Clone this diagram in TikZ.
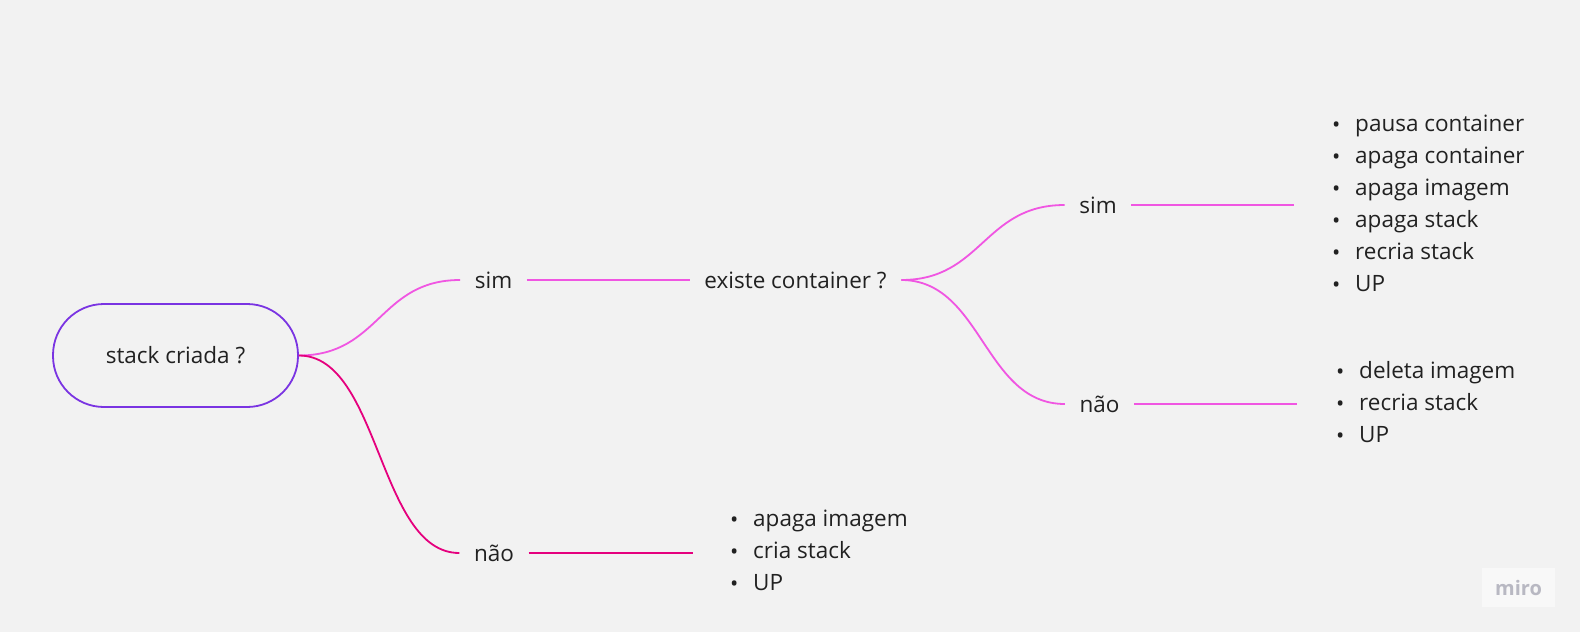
\documentclass[tikz,border=0pt]{standalone}
\usepackage{fontspec}
\setmainfont{Open Sans}
\usepackage{tikz}
\usepackage{xcolor}
\definecolor{bggrey}{RGB}{242,242,242}
\definecolor{rootlila}{RGB}{122,52,226}
\definecolor{softpink}{RGB}{240,86,226}
\definecolor{hardpink}{RGB}{229,0,126}
\definecolor{mirogrey}{RGB}{184,184,194}
\newcommand{\dotitem}{\makebox[23pt][l]{\raisebox{-1pt}{\fontsize{22}{22}\selectfont\textbullet}}}

\begin{document}
\begin{tikzpicture}[x=1pt,y=-1pt]

\tikzstyle{every node}=[font=\fontsize{22.5}{32}\selectfont, text=black!87]
\tikzstyle{word}=[inner xsep=14.5pt, inner ysep=0pt, text height=16pt, text depth=0pt]
\tikzstyle{list}=[align=left, inner sep=0pt, anchor=west]
\tikzstyle{soft}=[draw=softpink, line width=1.8pt]
\tikzstyle{hard}=[draw=hardpink, line width=1.8pt]

% background
    \fill[bggrey] (0,0) rectangle (1580,632);

% root question
    \node[draw=rootlila, line width=1.8pt, rounded corners=51pt, minimum width=245pt,
          minimum height=103pt, inner sep=0pt] (root) at (175.5,355.5) {stack criada ?};

% first answers
    \node[word] (sim1) at (493.5,280) {sim};
    \node[word] (nao1) at (494,553) {não};
    \node[word] (cont) at (795.5,280) {existe container ?};

% second answers
    \node[word] (sim2) at (1098,205) {sim};
    \node[word] (nao2) at (1099.5,404) {não};

% lists
    \node[list] (listA) at (1332,204) {\dotitem pausa container\\ \dotitem apaga container\\
          \dotitem apaga imagem\\ \dotitem apaga stack\\ \dotitem recria stack\\ \dotitem UP};
    \node[list] (listB) at (1336,402) {\dotitem deleta imagem\\ \dotitem recria stack\\ \dotitem UP};
    \node[list] (listC) at (730,551) {\dotitem apaga imagem\\ \dotitem cria stack\\ \dotitem UP};

% free line ends
    \coordinate (endA) at (1294,205);
    \coordinate (endB) at (1297,404);
    \coordinate (endC) at (693,553);

% branches
    \draw[soft] (root.east) .. controls +(81,0) and +(-81,0) .. (sim1.west);
    \draw[hard] (root.east) .. controls +(81,0) and +(-81,0) .. (nao1.west);
    \draw[soft] (sim1.east) -- (cont.west);
    \draw[hard] (nao1.east) -- (endC);
    \draw[soft] (cont.east) .. controls +(81,0) and +(-81,0) .. (sim2.west);
    \draw[soft] (cont.east) .. controls +(81,0) and +(-81,0) .. (nao2.west);
    \draw[soft] (sim2.east) -- (endA);
    \draw[soft] (nao2.east) -- (endB);

% watermark
    \node[fill=white!45!bggrey, minimum width=73pt, minimum height=39pt, inner sep=0pt,
          font=\fontsize{20}{20}\selectfont\bfseries, text=mirogrey] (miro) at (1518.5,587.5) {miro};

\end{tikzpicture}
\end{document}
